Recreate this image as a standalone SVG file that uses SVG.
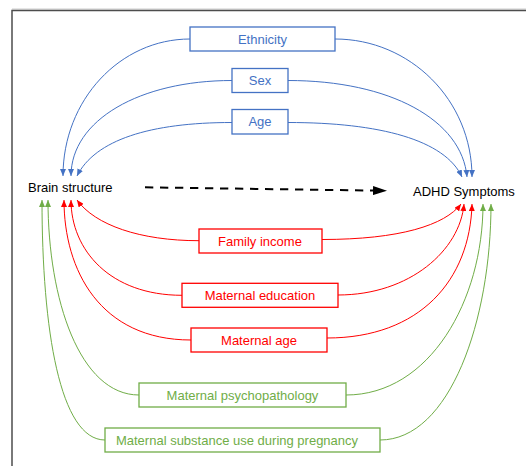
<svg xmlns="http://www.w3.org/2000/svg" width="526" height="466" viewBox="0 0 526 466">
<style>
text { font-family: "Liberation Sans", Arial, sans-serif; font-size: 13px; }
.lbl { text-anchor: middle; }
.b rect { fill: #fff; stroke: #4472C4; stroke-width: 1.3; }
.b text { fill: #4472C4; }
.r rect { fill: #fff; stroke: #FF0000; stroke-width: 1.3; }
.r text { fill: #FF0000; }
.g rect { fill: #fff; stroke: #70AD47; stroke-width: 1.3; }
.g text { fill: #70AD47; }
.cb { fill: none; stroke: #4472C4; stroke-width: 1; marker-end: url(#ab); }
.cr { fill: none; stroke: #FF0000; stroke-width: 1; marker-end: url(#ar); }
.cg { fill: none; stroke: #70AD47; stroke-width: 1; marker-end: url(#ag); }
</style>
<defs>
<marker id="ab" markerUnits="userSpaceOnUse" markerWidth="7" markerHeight="6" refX="7" refY="3" orient="auto"><path d="M0,0 L7,3 L0,6 z" fill="#4472C4"/></marker>
<marker id="ar" markerUnits="userSpaceOnUse" markerWidth="7" markerHeight="6" refX="7" refY="3" orient="auto"><path d="M0,0 L7,3 L0,6 z" fill="#FF0000"/></marker>
<marker id="ag" markerUnits="userSpaceOnUse" markerWidth="7" markerHeight="6" refX="7" refY="3" orient="auto"><path d="M0,0 L7,3 L0,6 z" fill="#70AD47"/></marker>
<marker id="ak" markerUnits="userSpaceOnUse" markerWidth="14" markerHeight="9" refX="0" refY="4.5" orient="auto"><path d="M0,0 L14,4.5 L0,9 z" fill="#000"/></marker>
</defs>
<rect width="526" height="466" fill="#fff"/>
<g id="frame">
<line x1="12" y1="9" x2="526" y2="9" stroke="#cccccc" stroke-width="1"/>
<path d="M12,466 V10.5 H526" fill="none" stroke="#4d4d4d" stroke-width="1.5"/>
</g>
<g id="connectors">
<path class="cb" d="M190,39 C120,39 63,100 63,176"/>
<path class="cb" d="M232,80.5 C140,80.5 71,120 71,176"/>
<path class="cb" d="M232,122.5 C150,122.5 95,140 77,176"/>
<path class="cb" d="M335,39 C410,39 472,100 472,177"/>
<path class="cb" d="M288,80.5 C390,80.5 462,120 467,177"/>
<path class="cb" d="M288,122.5 C380,122.5 445,140 462,177"/>
<path class="cr" d="M199,240.7 C140,240.7 95,225 77,200"/>
<path class="cr" d="M182,295.3 C110,295.3 71,250 71,200"/>
<path class="cr" d="M191,340 C100,340 64,270 64,200"/>
<path class="cr" d="M322,239.5 C400,239.5 445,225 461,204"/>
<path class="cr" d="M338,295 C410,295 460,250 464,204"/>
<path class="cr" d="M327,338 C420,338 470,280 472,204"/>
<path class="cg" d="M139,395 C80,395 48,300 48,200"/>
<path class="cg" d="M105,440 C60,440 42,330 42,200"/>
<path class="cg" d="M346,395 C430,395 483,300 483,204"/>
<path class="cg" d="M380,440 C450,440 491,320 491,204"/>
<line x1="145" y1="187.3" x2="373" y2="190.6" stroke="#000" stroke-width="2" stroke-dasharray="8.3 6.7" marker-end="url(#ak)"/>
</g>
<g id="brain"><text x="28" y="191.5">Brain structure</text></g>
<g id="adhd"><text x="413" y="196">ADHD Symptoms</text></g>
<g id="ethnicity" class="b"><rect x="190" y="27" width="145" height="24"/><text class="lbl" x="262.5" y="43.5">Ethnicity</text></g>
<g id="sex" class="b"><rect x="232" y="68.5" width="56" height="24"/><text class="lbl" x="260" y="85">Sex</text></g>
<g id="age" class="b"><rect x="232" y="109.5" width="56" height="24.5"/><text class="lbl" x="260" y="126.3">Age</text></g>
<g id="income" class="r"><rect x="199" y="229" width="123" height="24"/><text class="lbl" x="260" y="245.5">Family income</text></g>
<g id="education" class="r"><rect x="182" y="283.3" width="156" height="24"/><text class="lbl" x="260" y="299.8">Maternal education</text></g>
<g id="matage" class="r"><rect x="191" y="328" width="136" height="24"/><text class="lbl" x="259" y="344.5">Maternal age</text></g>
<g id="psych" class="g"><rect x="139" y="383" width="207" height="24"/><text class="lbl" x="242.5" y="399.5">Maternal psychopathology</text></g>
<g id="substance" class="g"><rect x="105" y="428" width="275" height="24"/><text class="lbl" x="237" y="444.5">Maternal substance use during pregnancy</text></g>
</svg>
